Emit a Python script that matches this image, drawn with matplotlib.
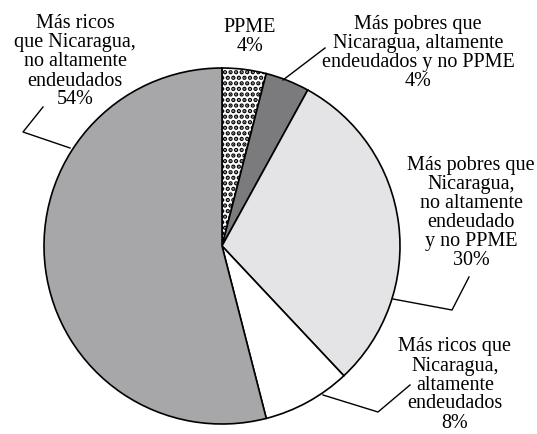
import numpy as np
import matplotlib.pyplot as plt

# slices, clockwise from 12 o'clock
shares = [4, 4, 30, 8, 54]
labels = [
    "PPME\n4%",
    "Más pobres que\nNicaragua, altamente\nendeudados y no PPME\n4%",
    "Más pobres que\nNicaragua,\nno altamente\nendeudado\ny no PPME\n30%",
    "Más ricos que\nNicaragua,\naltamente\nendeudados\n8%",
    "Más ricos\nque Nicaragua,\nno altamente\nendeudados\n54%",
]
colors = ['white', '#7b7b7d', '#e4e4e6', 'white', '#a7a7a9']
hatches = ['...', None, None, None, None]

W, H = 537, 434
plt.rcParams['hatch.linewidth'] = 2.2

fig = plt.figure(figsize=(W / 100, H / 100), dpi=100)
ax = fig.add_axes([0, 0, 1, 1])

# pie placed in pixel space (y up)
cx, cy, r = 222, H - 246, 178
wedges, _ = ax.pie(shares, colors=colors, startangle=90, counterclock=False,
                   center=(cx, cy), radius=r, frame=True,
                   wedgeprops=dict(edgecolor='black', linewidth=1.2))
for w, h in zip(wedges, hatches):
    if h:
        w.set_hatch(h)
ax.set_xlim(0, W)
ax.set_ylim(0, H)
ax.set_aspect('equal')
ax.axis('off')

font = dict(family='Liberation Serif', fontsize=14.5, ha='center', va='center',
            linespacing=1.0)

# label centres (pixel coords from top) and leader polylines
label_pos = [(250, 37), (418, 53), (471, 213), (455, 385), (75, 62)]
leaders = [
    None,
    [(325, 48), (283, 80)],
    [(469, 277), (452, 310), (393, 299)],
    [(410, 385), (378, 412), (323, 395)],
    [(43, 107), (23, 132), (70, 148)],
]

for text, (x, y), pts in zip(labels, label_pos, leaders):
    ax.text(x, H - y, text, **font)
    if pts:
        xs = [p[0] for p in pts]
        ys = [H - p[1] for p in pts]
        ax.plot(xs, ys, color='black', linewidth=1.0)

fig.savefig('out.png', dpi=100)
